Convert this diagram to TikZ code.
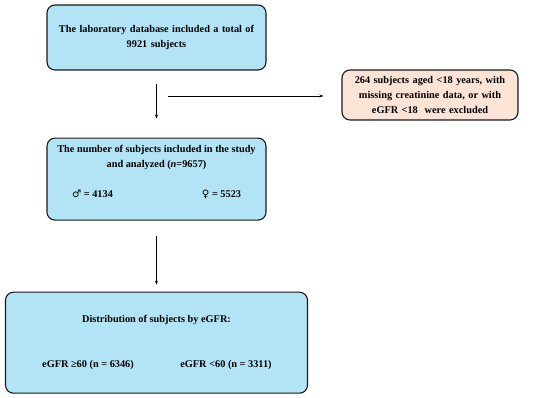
\documentclass[tikz,border=0pt]{standalone}
\usepackage{fontspec}
\setmainfont{Liberation Serif}
\newfontfamily\symfont{DejaVu Sans}
\usetikzlibrary{arrows.meta, positioning}
\definecolor{boxblue}{HTML}{B3E4F5}
\definecolor{boxpeach}{HTML}{FBE3D6}

\begin{document}
\begin{tikzpicture}[
    >={Stealth[length=4pt, width=3pt]},
    box/.style={draw=black!90, line width=1.1pt, rounded corners=8pt, fill=boxblue, align=center, inner sep=0pt},
    lbl/.style={font=\fontsize{10.3}{15}\selectfont\bfseries, align=center},
    every edge/.style={draw, ->, line width=0.6pt}
]
\useasboundingbox (0,0) rectangle (550pt,398pt);

% database box
\node[box, lbl, minimum width=219pt, minimum height=65pt, text width=210pt] (database) at (156.5pt,360.5pt)
    {The laboratory database included a total of\\9921 subjects};

% study box
\node[box, minimum width=219pt, minimum height=82pt, below=67pt of database] (study) {};
\node[lbl] (studytitle) at ([yshift=21.5pt]study.center) {The number of subjects included in the study\\and analyzed (\textit{n}=9657)};
\node[lbl] (male) at ([xshift=-64pt, yshift=-15pt]study.center) {{\symfont\mdseries ♂} = 4134};
\node[lbl] (female) at ([xshift=65pt, yshift=-15pt]study.center) {{\symfont\mdseries ♀} = 5523};

% distribution box
\node[box, minimum width=302pt, minimum height=101pt, below=71pt of study] (egfr) {};
\node[lbl] (egfrtitle) at ([yshift=22.5pt]egfr.center) {Distribution of subjects by eGFR:};
\node[lbl] (egfrhigh) at ([xshift=-68.5pt, yshift=-22.5pt]egfr.center) {eGFR ≥60 (n = 6346)};
\node[lbl] (egfrlow) at ([xshift=69.5pt, yshift=-22.5pt]egfr.center) {eGFR <60 (n = 3311)};

% excluded box
\node[box, lbl, fill=boxpeach, minimum width=176pt, minimum height=50pt, text width=172pt] (excluded) at (430pt,303pt)
    {264 subjects aged <18 years, with\\missing creatinine data, or with\\eGFR <18~~were excluded};

% arrows
\coordinate (split) at (168pt,302pt);
\draw (database) edge[shorten <=13pt, shorten >=19pt] (study);
\draw (split) edge[shorten >=18pt] (excluded.west |- split);
\draw (study) edge[shorten <=15pt, shorten >=7pt] (egfr);

\end{tikzpicture}
\end{document}
